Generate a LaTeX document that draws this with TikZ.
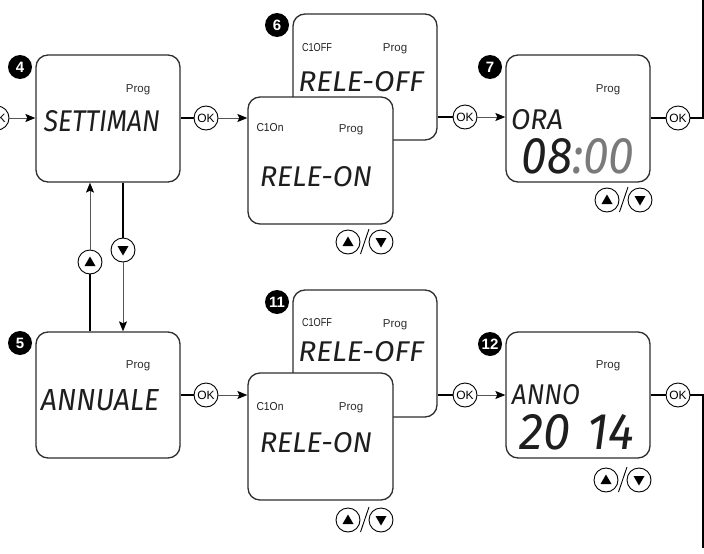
\documentclass[tikz,border=0pt]{standalone}
\usepackage{fontspec}
\usepackage{graphicx}
\setmainfont{Liberation Sans}
\newfontfamily\lcdfont{Fira Sans}
\usetikzlibrary{arrows.meta,calc}
\definecolor{boxline}{HTML}{2E2E2E}
\definecolor{thinline}{HTML}{555555}
\definecolor{lcdgray}{HTML}{7A7A7A}
\definecolor{lcdink}{HTML}{1E1E1E}
\newcommand{\lcd}[3]{\resizebox{#1pt}{#2pt}{\lcdfont\itshape #3}}
\newcommand{\chan}[3]{\resizebox{#1pt}{#2pt}{#3}}
\tikzset{
  lcdbox/.style={draw=boxline, line width=1.3pt, rounded corners=12pt, fill=white, inner sep=0pt},
  okbtn/.style={circle, draw=black, line width=0.9pt, minimum size=24pt, inner sep=0pt, fill=white,
    font=\fontsize{12}{12}\selectfont},
  arrbtn/.style={circle, draw=black, line width=0.9pt, minimum size=24pt, inner sep=0pt, fill=white},
  badge/.style={circle, fill=black, minimum size=24pt, inner sep=0pt, text=white,
    font=\bfseries\fontsize{15}{15}\selectfont},
  progtxt/.style={inner sep=0pt, text=boxline, font=\fontsize{11.5}{11.5}\selectfont},
  chtxt/.style={inner sep=0pt, text=lcdink},
  lcdtxt/.style={inner sep=0pt, text=lcdink},
  link/.style={line width=1.8pt, black},
  feed/.style={line width=0.9pt, thinline, -{Stealth[length=10pt,width=8pt,inset=2pt,color=black]}},
  slashline/.style={line width=0.9pt, black},
}
\newcommand{\udpair}[3]{%
  \node[arrbtn] (#1u) at (#2,#3) {};
  \node[arrbtn] (#1d) at ($(#1u)+(33,0)$) {};
  \fill ($(#1u)+(-5.5,4)$) -- ($(#1u)+(5.5,4)$) -- ($(#1u)+(0,-5.5)$) -- cycle;
  \fill ($(#1d)+(-5.5,-4)$) -- ($(#1d)+(5.5,-4)$) -- ($(#1d)+(0,5.5)$) -- cycle;
  \draw[slashline] ($(#1u)!0.5!(#1d)+(-4,12)$) -- ($(#1u)!0.5!(#1d)+(4.5,-13)$);
}
\begin{document}
\begin{tikzpicture}[x=1pt,y=-1pt]
\useasboundingbox (0,0) rectangle (704,554);
\clip (0,0) rectangle (704,554);

% ---------- row 1 ----------
\node[lcdbox, minimum width=144pt, minimum height=127pt] (b4) at (108,118.5) {};
\node[badge] (n4) at (20,67) {4};
\node[progtxt] (p4) at (138,90) {Prog};
\node[lcdtxt] (t4) at (102,121) {\lcd{116}{21}{SETTIMAN}};

\node[lcdbox, minimum width=144pt, minimum height=126pt] (b6b) at (365,77) {};
\node[badge] (n6) at (277,25) {6};
\node[chtxt] (c6b) at (317,48) {\chan{30}{8}{C1OFF}};
\node[progtxt] (p6b) at (395,49) {Prog};
\node[lcdtxt] (t6b) at (361,82) {\lcd{125}{20}{RELE-OFF}};

\node[lcdbox, minimum width=145pt, minimum height=127pt] (b6f) at (320.5,160.5) {};
\node[chtxt] (c6f) at (270,128) {\chan{27}{8}{C1On}};
\node[progtxt] (p6f) at (351,130) {Prog};
\node[lcdtxt] (t6f) at (316,177) {\lcd{112}{20}{RELE-ON}};

\node[lcdbox, minimum width=144pt, minimum height=127pt] (b7) at (578,118.5) {};
\node[badge] (n7) at (490,67) {7};
\node[progtxt] (p7) at (608,90) {Prog};
\node[lcdtxt] (t7a) at (537,120) {\lcd{52}{20}{ORA}};
\node[lcdtxt] (t7b) at (578,156) {\lcd{113}{35}{08{\color{lcdgray}:00}}};

% OK buttons row 1
\node[okbtn] (ok0) at (-3,118) {OK};
\node[okbtn] (ok1) at (206,118) {OK};
\node[okbtn] (ok2) at (465,117) {OK};
\node[okbtn] (ok3) at (678,118) {OK};
\coordinate (tr) at (703,0);

\draw[feed] (ok0.east) -- (b4.west |- ok0);
\draw[link] (b4.east |- ok1) -- (ok1.west);
\draw[feed] (ok1.east) -- (b6f.west |- ok1);
\draw[link] (b6b.east |- ok2) -- (ok2.west);
\draw[feed] (ok2.east) -- (b7.west |- ok2);
\draw[link] (b7.east |- ok3) -- (ok3.west);
\draw[link] (ok3.east) -| (tr);

\udpair{s6}{348}{242}
\udpair{s7}{607}{200}

% ---------- vertical links between 4 and 5 ----------
\node[lcdbox, minimum width=144pt, minimum height=126pt] (b5) at (108,395) {};
\node[arrbtn] (up45) at (90,262) {};
\node[arrbtn] (dn45) at (123,250) {};
\fill ($(up45)+(-5.5,4)$) -- ($(up45)+(5.5,4)$) -- ($(up45)+(0,-5.5)$) -- cycle;
\fill ($(dn45)+(-5.5,-4)$) -- ($(dn45)+(5.5,-4)$) -- ($(dn45)+(0,5.5)$) -- cycle;
\draw[link] (b5.north -| up45) -- (up45.south);
\draw[feed] (up45.north) -- (b4.south -| up45);
\draw[link] (b4.south -| dn45) -- (dn45.north);
\draw[feed] (dn45.south) -- (b5.north -| dn45);

% ---------- row 2 ----------
\node[badge] (n5) at (20,343) {5};
\node[progtxt] (p5) at (138,366) {Prog};
\node[lcdtxt] (t5) at (100,400) {\lcd{118}{21}{ANNUALE}};

\node[lcdbox, minimum width=144pt, minimum height=127pt] (b11b) at (365,353.5) {};
\node[badge] (n11) at (277,302) {11};
\node[chtxt] (c11b) at (317,323) {\chan{30}{8}{C1OFF}};
\node[progtxt] (p11b) at (395,325) {Prog};
\node[lcdtxt] (t11b) at (361,352) {\lcd{125}{20}{RELE-OFF}};

\node[lcdbox, minimum width=145pt, minimum height=127pt] (b11f) at (320.5,436.5) {};
\node[chtxt] (c11f) at (270,407) {\chan{27}{8}{C1On}};
\node[progtxt] (p11f) at (351,408) {Prog};
\node[lcdtxt] (t11f) at (316,443) {\lcd{112}{20}{RELE-ON}};

\node[lcdbox, minimum width=144pt, minimum height=126pt] (b12) at (578,395) {};
\node[badge] (n12) at (490,344) {12};
\node[progtxt] (p12) at (608,366) {Prog};
\node[lcdtxt] (t12a) at (546,395) {\lcd{68}{20}{ANNO}};
\node[lcdtxt] (t12b) at (577,432) {\lcd{115}{35}{20\hspace{0.35em}14}};

\node[okbtn] (ok4) at (206,395) {OK};
\node[okbtn] (ok5) at (465,395) {OK};
\node[okbtn] (ok6) at (678,395) {OK};
\coordinate (br) at (703,548);

\draw[link] (b5.east |- ok4) -- (ok4.west);
\draw[feed] (ok4.east) -- (b11f.west |- ok4);
\draw[link] (b11b.east |- ok5) -- (ok5.west);
\draw[feed] (ok5.east) -- (b12.west |- ok5);
\draw[link] (b12.east |- ok6) -- (ok6.west);
\draw[link] (ok6.east) -| (br);

\udpair{s11}{348}{520}
\udpair{s12}{606}{480}
\end{tikzpicture}
\end{document}
